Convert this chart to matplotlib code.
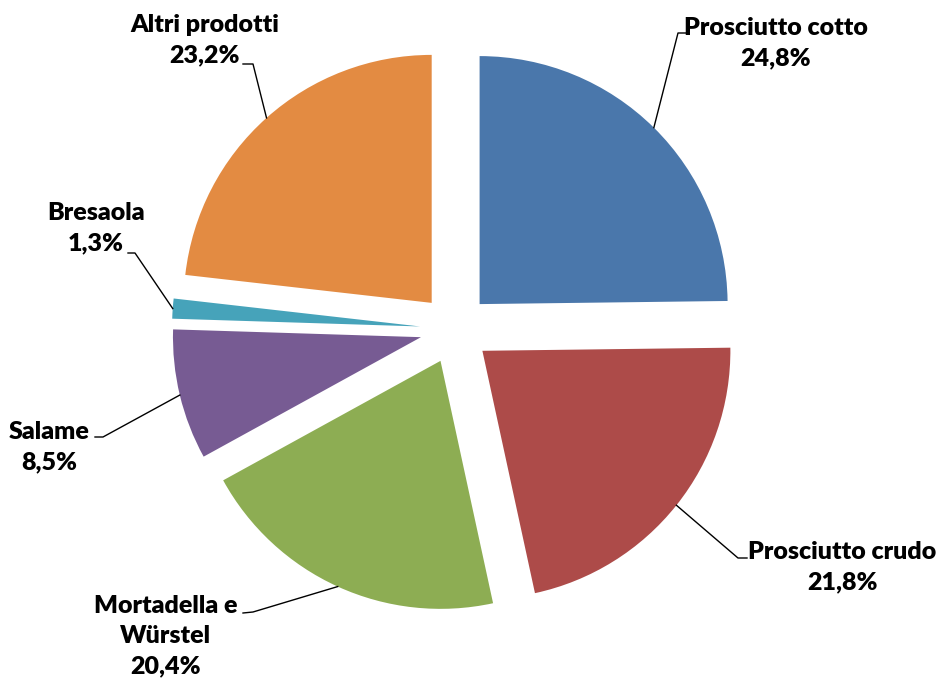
import numpy as np
import matplotlib
matplotlib.use("Agg")
import matplotlib.pyplot as plt

W, H = 940, 681

labels = ["Prosciutto cotto", "Prosciutto crudo", "Mortadella e\nWürstel",
          "Salame", "Bresaola", "Altri prodotti"]
shares = [24.8, 21.8, 20.4, 8.5, 1.3, 23.2]
colors = ["#4A77AB", "#AD4B49", "#8DAD53", "#775B93", "#46A3BA", "#E38B42"]

plt.rcParams['font.family'] = ['Lato', 'DejaVu Sans']

fig = plt.figure(figsize=(W / 100, H / 100), dpi=100)
ax = fig.add_axes([0, 0, 1, 1])

# pie laid out in pixel units, y measured upward; explode is in the same units
wedges, _ = ax.pie(shares, colors=colors, startangle=90, counterclock=False,
                   center=(455, H - 329), radius=248, explode=[35] * len(shares),
                   wedgeprops=dict(linewidth=0), frame=True)
ax.set_xlim(0, W)
ax.set_ylim(0, H)
ax.axis('off')

# label block centre, leader elbow, leader end (image pixel coords, y down)
label_pos = [(776, 43), (842, 567), (166, 636), (49, 447), (96, 228), (205, 40)]
elbows = [((678, 33), (686, 33)), ((738, 558), (747, 558)), ((253, 612), (243, 613)),
          ((103, 437), (95, 437)), ((135, 253), (128, 253)), ((253, 64), (243, 64))]

for w, lab, val, (tx, ty), (e1, e2) in zip(wedges, labels, shares, label_pos, elbows):
    mid = np.deg2rad((w.theta1 + w.theta2) / 2)
    ax0 = w.center[0] + w.r * np.cos(mid)
    ay0 = w.center[1] + w.r * np.sin(mid)
    ax.plot([ax0, e1[0], e2[0]], [ay0, H - e1[1], H - e2[1]], color='black', lw=1)
    txt = lab + "\n" + f"{val:.1f}%".replace(".", ",")
    ax.text(tx, H - ty, txt, ha='center', va='center', fontsize=18,
            fontweight='heavy', linespacing=1.45, color='black')

fig.savefig("out.png", dpi=100)
